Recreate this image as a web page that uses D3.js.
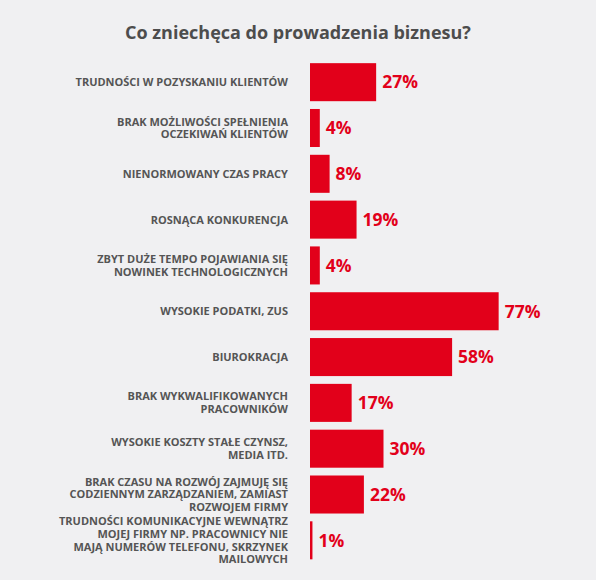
<!DOCTYPE html>
<html>
<head>
<meta charset="utf-8">
<script src="https://cdn.jsdelivr.net/npm/d3@7"></script>
<style>
  body { margin: 0; background: #f0f0f2; }
  svg { display: block; font-family: "Open Sans", sans-serif; }
</style>
</head>
<body>
<div id="chart"></div>
<script>
(function () {
  const width = 596, height = 580;

  const categories = [
    "TRUDNOŚCI W POZYSKANIU KLIENTÓW",
    "BRAK MOŻLIWOŚCI SPEŁNIENIA|OCZEKIWAŃ KLIENTÓW",
    "NIENORMOWANY CZAS PRACY",
    "ROSNĄCA KONKURENCJA",
    "ZBYT DUŻE TEMPO POJAWIANIA SIĘ|NOWINEK TECHNOLOGICZNYCH",
    "WYSOKIE PODATKI, ZUS",
    "BIUROKRACJA",
    "BRAK WYKWALIFIKOWANYCH|PRACOWNIKÓW",
    "WYSOKIE KOSZTY STAŁE CZYNSZ,|MEDIA ITD.",
    "BRAK CZASU NA ROZWÓJ ZAJMUJĘ SIĘ|CODZIENNYM ZARZĄDZANIEM, ZAMIAST|ROZWOJEM FIRMY",
    "TRUDNOŚCI KOMUNIKACYJNE WEWNĄTRZ|MOJEJ FIRMY NP. PRACOWNICY NIE|MAJĄ NUMERÓW TELEFONU, SKRZYNEK|MAILOWYCH"
  ];
  const values = [27, 4, 8, 19, 4, 77, 58, 17, 30, 22, 1];

  const svg = d3.select("#chart").append("svg")
    .attr("width", width)
    .attr("height", height);

  svg.append("rect").attr("width", width).attr("height", height).attr("fill", "#f0f0f2");

  svg.append("text")
    .attr("x", width / 2)
    .attr("y", 39)
    .attr("text-anchor", "middle")
    .attr("fill", "#4d4d4d")
    .style("font-size", "18px")
    .style("font-weight", 700)
    .text("Co zniechęca do prowadzenia biznesu?");

  const x0 = 310;
  const x = d3.scaleLinear().domain([0, 100]).range([x0, x0 + 245]);
  const y = d3.scaleBand().domain(categories).range([59.5, 563]).paddingInner(0.17).paddingOuter(0.08);

  const rows = svg.append("g").selectAll("g")
    .data(categories)
    .join("g");

  rows.append("rect")
    .attr("x", x0)
    .attr("y", d => y(d))
    .attr("width", (d, i) => Math.max(2, x(values[i]) - x0))
    .attr("height", y.bandwidth())
    .attr("fill", "#e2001a");

  rows.append("text")
    .attr("x", (d, i) => Math.max(x0 + 2, x(values[i])) + 6)
    .attr("y", d => y(d) + y.bandwidth() / 2)
    .attr("dy", "0.36em")
    .attr("fill", "#e2001a")
    .style("font-size", "17.5px")
    .style("font-weight", 700)
    .text((d, i) => values[i] + "%");

  const lh = 12.7;
  rows.append("text")
    .attr("text-anchor", "end")
    .attr("fill", "#555")
    .style("font-size", "11px")
    .style("font-weight", 700)
    .each(function (d) {
      const lines = d.split("|");
      const cy = y(d) + y.bandwidth() / 2;
      const start = cy - (lines.length - 1) * lh / 2;
      d3.select(this).selectAll("tspan")
        .data(lines)
        .join("tspan")
        .attr("x", 288)
        .attr("y", (l, j) => start + j * lh)
        .attr("dy", "0.36em")
        .text(l => l);
    });
})();
</script>
</body>
</html>
